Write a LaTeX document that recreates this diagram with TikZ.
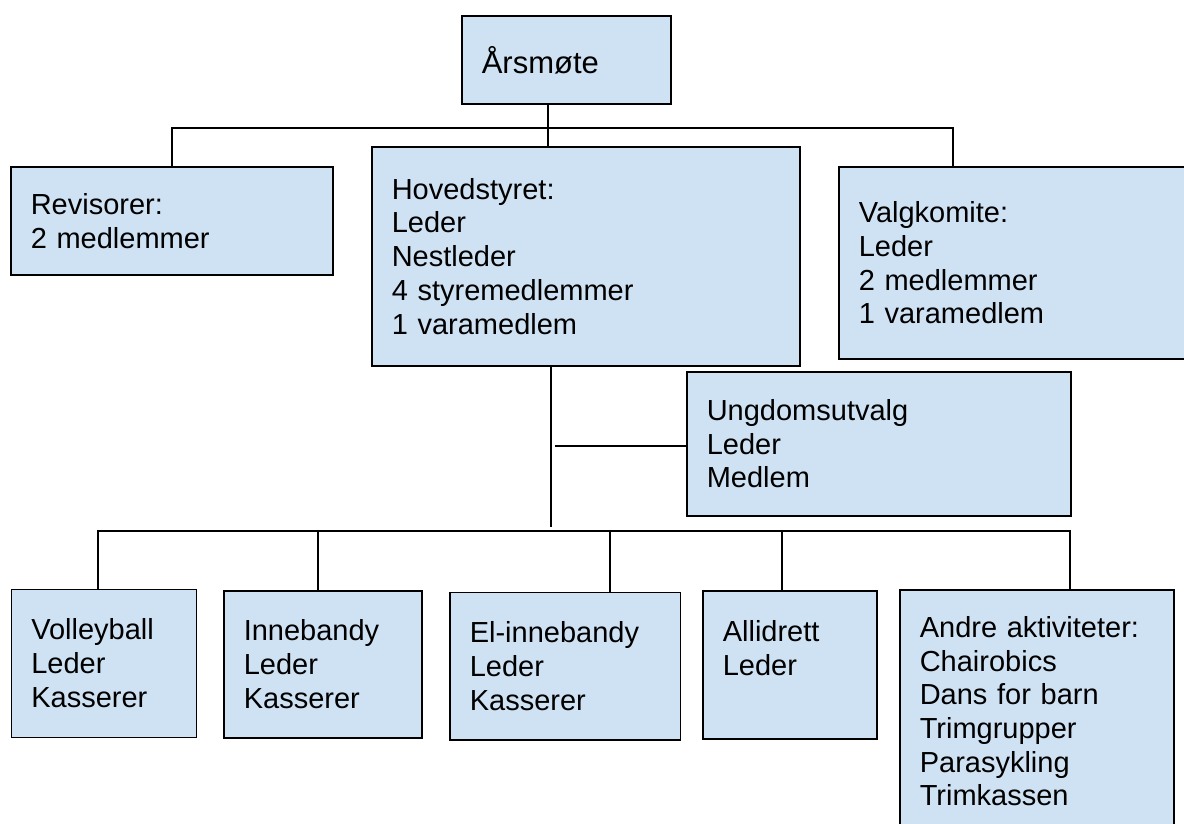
\documentclass[tikz,border=0pt]{standalone}
\usepackage{fontspec}
\setmainfont{Liberation Sans}
\definecolor{boxblue}{HTML}{CFE2F3}
\begin{document}
\begin{tikzpicture}[x=1pt,y=-1pt,
    org/.style={draw=black, line width=1.6pt, fill=boxblue, rectangle, anchor=north west,
        align=left, inner xsep=20pt, inner ysep=0pt, font=\fontsize{29pt}{33.7pt}\selectfont},
    link/.style={line width=1.5pt}]
    \useasboundingbox (0,0) rectangle (1184,824);

    \node[org, text width=169pt, minimum height=88pt, font=\fontsize{31pt}{36pt}\selectfont] (aars) at (461,15) {Årsmøte};
    \node[org, text width=282pt, minimum height=108pt] (revis) at (10,166) {Revisorer:\\2 medlemmer};
    \node[org, text width=388pt, minimum height=219pt] (hoved) at (371,146) {Hovedstyret:\\Leder\\Nestleder\\4 styremedlemmer\\1 varamedlem};
    \node[org, text width=312pt, minimum height=192pt] (valg) at (838,166) {Valgkomite:\\Leder\\2 medlemmer\\1 varamedlem};
    \node[org, text width=344pt, minimum height=144pt] (ungdom) at (686,371) {Ungdomsutvalg\\Leder\\Medlem};

    \node[org, text width=145pt, minimum height=148pt] (volley) at (10.5,588.5) {Volleyball\\Leder\\Kasserer};
    \node[org, text width=158pt, minimum height=147pt] (inne) at (223,590) {Innebandy\\Leder\\Kasserer};
    \node[org, text width=190.5pt, minimum height=147.5pt] (elinne) at (449,591.5) {El-innebandy\\Leder\\Kasserer};
    \node[org, text width=134pt, minimum height=148pt] (alli) at (702,590) {Allidrett\\Leder\\\mbox{}};
    \node[org, text width=234pt, minimum height=243pt] (andre) at (899,589) {Andre aktiviteter:\\Chairobics\\Dans for barn\\Trimgrupper\\Parasykling\\Trimkassen};

    \coordinate (top) at (548,128);
    \coordinate (topL) at (172,128);
    \coordinate (topR) at (953,128);
    \draw[link] (aars.south -| top) -- (hoved.north -| top);
    \draw[link] (revis.north -| topL) -- (topL) -- (topR) -- (valg.north -| topR);

    \coordinate (mid) at (551,527);
    \coordinate (ub) at (555,446);
    \draw[link] (hoved.south -| mid) -- (mid);
    \draw[link] (ub) -- (ub -| ungdom.west);

    \coordinate (botL) at (98,531);
    \coordinate (botR) at (1070,531);
    \draw[link] (volley.north -| botL) -- (botL) -- (botR) -- (andre.north -| botR);
    \foreach \n/\x in {inne/318, elinne/610, alli/782} {
        \coordinate (b\n) at (\x,531);
        \draw[link] (b\n) -- (b\n |- \n.north);
    }

\end{tikzpicture}
\end{document}
